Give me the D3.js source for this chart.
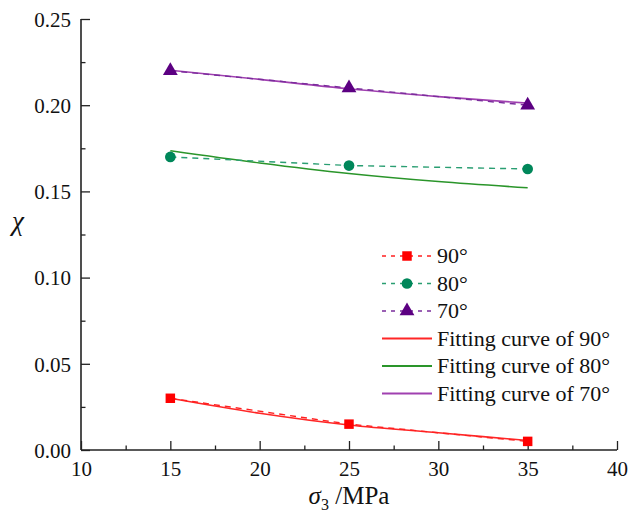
<!DOCTYPE html>
<html>
<head>
<meta charset="utf-8">
<script src="https://cdn.jsdelivr.net/npm/d3@7"></script>
<style>
  svg text, svg tspan { font-family: "Liberation Serif", "Times New Roman", Tinos, serif !important; }
</style>
</head>
<body style="margin:0; background:#fff">
<svg id="chart" width="630" height="514" style="display:block"></svg>
<script>
// Confining pressure σ3 (MPa)
const pressures = [15, 25, 35];

// Measured χ for each bedding angle
const chi90 = [0.030, 0.015, 0.005];
const chi80 = [0.170, 0.165, 0.163];
const chi70 = [0.220, 0.210, 0.200];

// Fitted curves sampled along σ3
const fitPressures = [15, 20, 25, 30, 35];
const fit90 = [0.0300, 0.0213, 0.0145, 0.0100, 0.0055];
const fit80 = [0.1736, 0.1665, 0.1604, 0.1557, 0.1521];
const fit70 = [0.2203, 0.2150, 0.2095, 0.2050, 0.2012];

const xTicks = [10, 15, 20, 25, 30, 35, 40];
const yTicks = [0.00, 0.05, 0.10, 0.15, 0.20, 0.25];

const svg = d3.select("#chart");
const plotLeft = 81, plotRight = 617, plotTop = 19, plotBottom = 450;

const x = d3.scaleLinear().domain([10, 40]).range([plotLeft, plotRight]);
const y = d3.scaleLinear().domain([0, 0.25]).range([plotBottom, plotTop]);

const measured = [
  { name: "90°", values: chi90, line: "#ff2020", marker: "#ff0000", shape: "square" },
  { name: "80°", values: chi80, line: "#2a9e72", marker: "#00875a", shape: "circle" },
  { name: "70°", values: chi70, line: "#7a2c9c", marker: "#5c0082", shape: "triangle" }
];
const fits = [
  { name: "Fitting curve of 90°", values: fit90, color: "#ff2626" },
  { name: "Fitting curve of 80°", values: fit80, color: "#2a952a" },
  { name: "Fitting curve of 70°", values: fit70, color: "#a040b0" }
];

// Axes: ticks point inward, minor ticks halfway between majors
const axisColor = "#222";
const gx = svg.append("g").attr("transform", `translate(0,${plotBottom})`);
gx.call(d3.axisBottom(x).tickValues(xTicks).tickSize(-9).tickPadding(11).tickFormat(d3.format("d")));
const gxMinor = svg.append("g").attr("transform", `translate(0,${plotBottom})`);
gxMinor.call(d3.axisBottom(x).tickValues(d3.range(12.5, 40, 5)).tickSize(-4.5).tickFormat(""));
gxMinor.select(".domain").remove();

const gy = svg.append("g").attr("transform", `translate(${plotLeft},0)`);
gy.call(d3.axisLeft(y).tickValues(yTicks).tickSize(-9).tickPadding(10).tickFormat(d3.format(".2f")));
const gyMinor = svg.append("g").attr("transform", `translate(${plotLeft},0)`);
gyMinor.call(d3.axisLeft(y).tickValues(d3.range(0.025, 0.25, 0.05)).tickSize(-4.5).tickFormat(""));
gyMinor.select(".domain").remove();

svg.selectAll("g").attr("font-family", "Liberation Serif");

gx.select(".domain").attr("d", `M${plotLeft},0H${plotRight}`);
gy.select(".domain").attr("d", `M0,${plotBottom}V${plotTop}`);
svg.selectAll(".domain").attr("stroke", axisColor).attr("stroke-width", 1.6);
svg.selectAll(".tick line").attr("stroke", axisColor).attr("stroke-width", 1.3);
svg.selectAll(".tick text").attr("fill", "#111").attr("font-size", 21);
gy.selectAll(".tick text").attr("dy", "0.35em");

// Axis titles
const xt = svg.append("text").attr("x", 349).attr("y", 504).attr("text-anchor", "middle")
  .attr("font-size", 25).attr("fill", "#111");
xt.append("tspan").attr("font-style", "italic").text("σ");
xt.append("tspan").attr("font-size", 16).attr("dy", 6).text("3");
xt.append("tspan").attr("dy", -6).text(" /MPa");

svg.append("text").attr("x", 18).attr("y", 230)
  .attr("text-anchor", "middle").attr("font-size", 27).attr("font-style", "italic")
  .attr("fill", "#111").text("χ");

// Fitted curves
const curveLine = d3.line().x((d, i) => x(fitPressures[i])).y(d => y(d)).curve(d3.curveMonotoneX);
fits.forEach(f => {
  svg.append("path").attr("d", curveLine(f.values)).attr("fill", "none")
    .attr("stroke", f.color).attr("stroke-width", 1.6);
});

// Measured points joined by dashed lines
const pointLine = d3.line().x((d, i) => x(pressures[i])).y(d => y(d));
const symbolOf = {
  square: d3.symbol().type(d3.symbolSquare).size(90),
  circle: d3.symbol().type(d3.symbolCircle).size(90),
  triangle: d3.symbol().type(d3.symbolTriangle).size(95)
};
measured.forEach(s => {
  svg.append("path").attr("d", pointLine(s.values)).attr("fill", "none")
    .attr("stroke", s.line).attr("stroke-width", 1.4).attr("stroke-dasharray", "6,5");
  svg.selectAll(null).data(s.values).enter().append("path")
    .attr("d", symbolOf[s.shape])
    .attr("transform", (d, i) => `translate(${x(pressures[i])},${y(d)})`)
    .attr("fill", s.marker);
});

// Legend
const lg = svg.append("g");
const rowY = i => 256 + i * 27.5;
const lx0 = 382, lx1 = 432, tx = 437;
measured.forEach((s, i) => {
  const yy = rowY(i);
  lg.append("line").attr("x1", lx0).attr("x2", lx1).attr("y1", yy).attr("y2", yy)
    .attr("stroke", s.line).attr("stroke-width", 1.4).attr("stroke-dasharray", "4,5");
  lg.append("path").attr("d", symbolOf[s.shape])
    .attr("transform", `translate(${(lx0 + lx1) / 2},${yy})`).attr("fill", s.marker);
  lg.append("text").attr("x", tx).attr("y", yy + 7).attr("font-size", 22)
    .attr("fill", "#111").text(s.name);
});
fits.forEach((f, i) => {
  const yy = rowY(i + 3);
  lg.append("line").attr("x1", lx0).attr("x2", lx1).attr("y1", yy).attr("y2", yy)
    .attr("stroke", f.color).attr("stroke-width", 1.8);
  lg.append("text").attr("x", tx).attr("y", yy + 7).attr("font-size", 22)
    .attr("fill", "#111").text(f.name);
});

// Serif face for every label
svg.selectAll("text").attr("font-family", "Liberation Serif")
  .style("font-family", '"Liberation Serif", "Times New Roman", serif');
</script>
</body>
</html>
